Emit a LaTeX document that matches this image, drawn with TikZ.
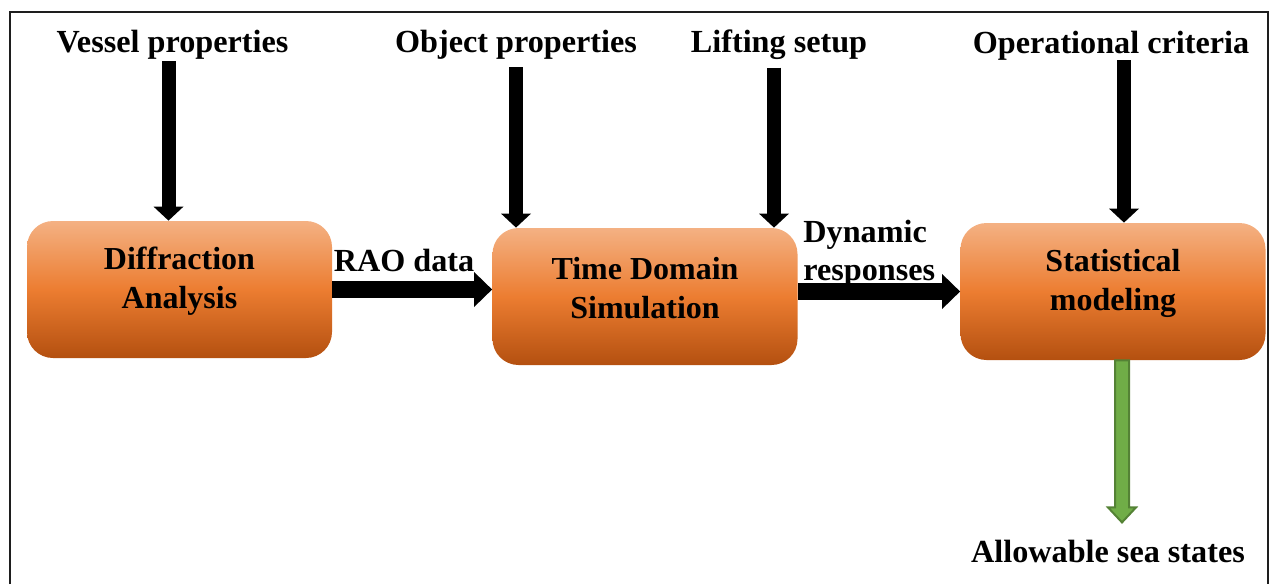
\documentclass[tikz,border=0pt]{standalone}
\usepackage{fontspec}
\setmainfont{Liberation Serif}
\definecolor{BoxTop}{RGB}{244, 177, 131}
\definecolor{BoxMid}{RGB}{236, 125, 49}
\definecolor{BoxBottom}{RGB}{180, 80, 16}
\definecolor{OutGreen}{RGB}{112, 173, 71}
\definecolor{OutEdge}{RGB}{84, 130, 53}
\definecolor{FrameGray}{RGB}{30, 30, 30}
\usetikzlibrary{arrows.meta, positioning, calc}

\begin{document}
\begin{tikzpicture}[x=0.5pt, y=-0.5pt]
        % --- Styles ---
        \tikzstyle{procbox}=[rounded corners=13pt, minimum width=152.5pt, minimum height=68.5pt, top color=BoxTop, bottom color=BoxBottom, middle color=BoxMid]
        \tikzstyle{boxtext}=[font=\fontsize{16pt}{19.5pt}\selectfont\bfseries, align=center, inner sep=0pt]
        \tikzstyle{lbl}=[font=\fontsize{16.1pt}{19pt}\selectfont\bfseries, inner sep=0pt]
        \tikzstyle{inarrow}=[line width=7pt, -{Triangle[width=15pt, length=7pt, line width=0pt]}]
        \tikzstyle{flowarrow}=[line width=8.5pt, -{Triangle[width=17.5pt, length=9pt, line width=0pt]}]
        \tikzstyle{outarrow}=[fill=OutGreen, draw=OutEdge, line width=1pt, line join=miter]

        \useasboundingbox (0,0) rectangle (1275,584);

        % --- 1. Frame (open at the bottom) ---
        \draw[FrameGray, line width=1pt] (10,584) -- (10,11.5) -- (1268,11.5) -- (1268,584);

        % --- 2. Process boxes ---
        \node[procbox] (diff) at (179.5,289.5) {};
        \node[boxtext] (diff-txt) at ($(diff)+(0,-8)$) {Diffraction\\Analysis};

        \node[procbox] (tds) at (645,296.5) {};
        \node[boxtext] (tds-txt) at ($(tds)+(0,-8)$) {Time Domain\\Simulation};

        \node[procbox] (stat) at (1113,291.5) {};
        \node[boxtext] (stat-txt) at ($(stat)+(0,-8)$) {Statistical\\modeling};

        % --- 3. Inputs from the top ---
        \node[lbl, anchor=base] (vessel) at (172.5,52) {Vessel properties};
        \node[lbl, anchor=base] (object) at (516,52) {Object properties};
        \node[lbl, anchor=base] (lifting) at (779,52) {Lifting setup};
        \node[lbl, anchor=base] (criteria) at (1111,53) {Operational criteria};

        \coordinate (vessel-out) at ($(vessel.south)+(-4,2)$);
        \coordinate (object-out) at ($(object.south)+(0,8)$);
        \coordinate (lifting-out) at ($(lifting.south)+(-5,8)$);
        \coordinate (criteria-out) at ($(criteria.south)+(13,0)$);

        \draw[inarrow] (vessel-out) -- (vessel-out |- diff.north);
        \draw[inarrow] (object-out) -- (object-out |- tds.north);
        \draw[inarrow] (lifting-out) -- (lifting-out |- tds.north);
        \draw[inarrow] (criteria-out) -- (criteria-out |- stat.north);

        % --- 4. Flow between the boxes ---
        \draw[flowarrow] (diff.east) -- (diff.east -| tds.west);
        \node[lbl, anchor=base] (rao) at (404,271) {RAO data};

        \draw[flowarrow] (tds.east |- stat.west) -- (stat.west);
        \node[lbl, anchor=west, align=left] (dyn) at (803,254) {Dynamic\\responses};

        % --- 5. Result ---
        \coordinate (out-top) at ($(stat.south)+(9,0)$);
        \coordinate (out-tip) at ($(out-top)+(0,162)$);
        \draw[outarrow] ($(out-top)+(-7,0)$) -- ($(out-top)+(7,0)$) -- ($(out-tip)+(7,-15)$) -- ($(out-tip)+(14,-15)$)
            -- (out-tip) -- ($(out-tip)+(-14,-15)$) -- ($(out-tip)+(-7,-15)$) -- cycle;
        \node[lbl, anchor=base] (allow) at (1108,562) {Allowable sea states};

    \end{tikzpicture}
\end{document}
